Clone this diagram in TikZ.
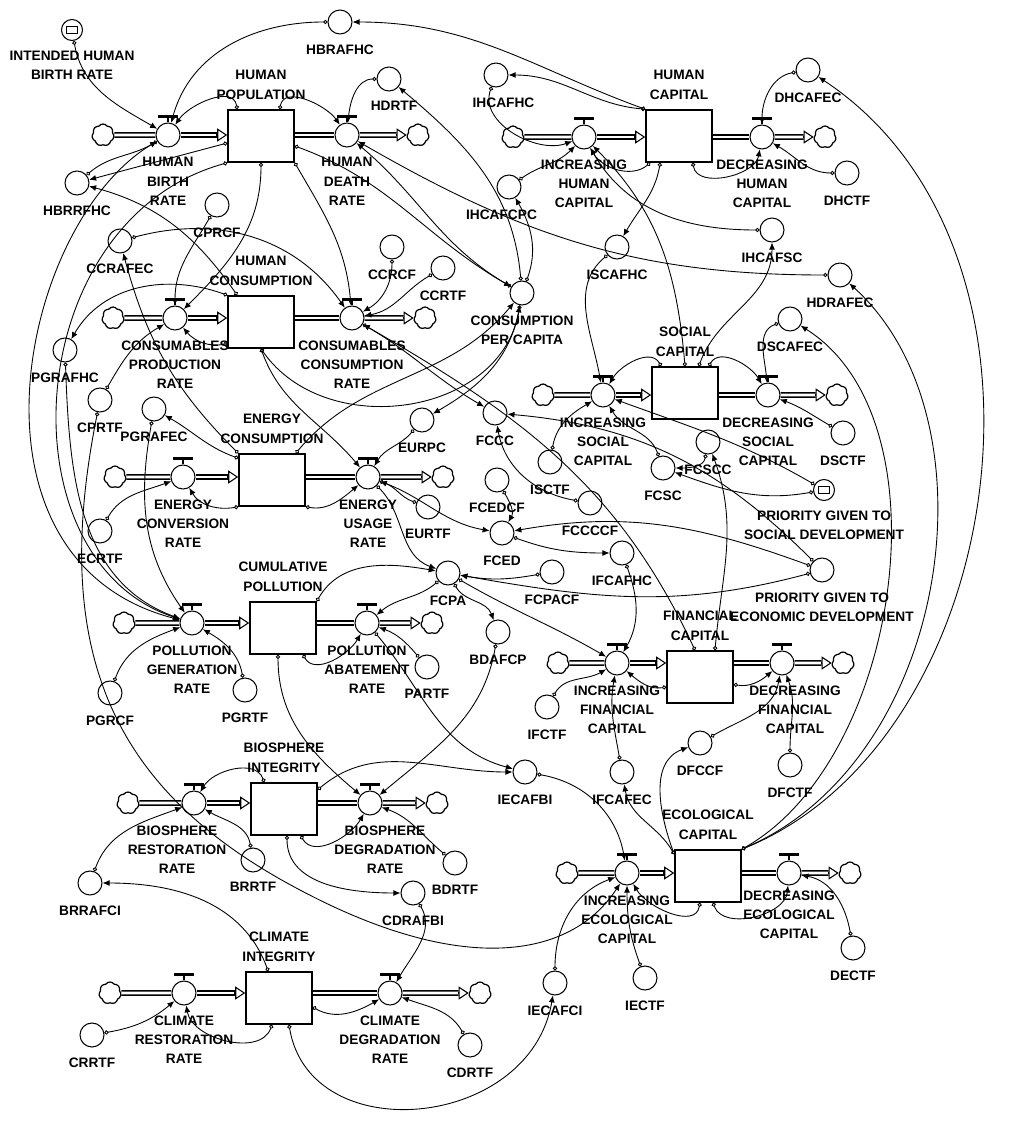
\documentclass[tikz,border=0pt]{standalone}
\usepackage{fontspec}
\setmainfont{Liberation Sans}
\usetikzlibrary{arrows.meta,shapes.symbols,calc}
\newcommand\sdfont{\fontsize{7.8}{11}\selectfont\bfseries}

\begin{document}
\begin{tikzpicture}[x=0.2mm, y=-0.2mm,
  stock/.style={rectangle, draw, line width=0.9pt, minimum width=13.2mm, minimum height=10.4mm, inner sep=0pt},
  valve/.style={circle, draw, line width=0.6pt, minimum size=4.8mm, inner sep=0pt},
  aux/.style={circle, draw, line width=0.6pt, minimum size=4.8mm, inner sep=0pt},
  inaux/.style={aux, minimum size=4.2mm, path picture={\draw[line width=0.6pt] ([shift={(-1.1mm,-0.7mm)}]path picture bounding box.center) rectangle ([shift={(1.1mm,0.7mm)}]path picture bounding box.center);}},
  cloudy/.style={cloud, cloud puffs=7, cloud puff arc=110, aspect=1, draw, line width=0.7pt, minimum width=4.4mm, minimum height=4.4mm, inner sep=0pt},
  pipe/.style={double, double distance=1.5pt, line width=0.85pt},
  flowtip/.style={-{Triangle[open, length=2mm, width=2.6mm]}, line width=0.6pt},
  link/.style={{Circle[open, length=2.4pt]}-{Latex[length=4pt, width=3.4pt]}, line width=0.5pt},
  every label/.style={font=\sdfont, align=center, inner sep=1pt},
  label distance=4.5pt
]
\useasboundingbox (0,0) rectangle (1024,1126);

\node[stock, label={above:HUMAN\\POPULATION}] (hpop) at (261,136) {};
\node[stock, label={above:HUMAN\\CONSUMPTION}] (hcons) at (261,322) {};
\node[stock, label={above:ENERGY\\CONSUMPTION}] (econ) at (272,480) {};
\node[stock, label={above:CUMULATIVE\\POLLUTION}] (cpol) at (283,628) {};
\node[stock, label={above:BIOSPHERE\\INTEGRITY}] (bint) at (284,809) {};
\node[stock, label={above:CLIMATE\\INTEGRITY}] (cint) at (279,998) {};
\node[stock, label={above:HUMAN\\CAPITAL}] (hcap) at (679,136) {};
\node[stock, label={above:SOCIAL\\CAPITAL}] (scap) at (685,393) {};
\node[stock, label={above:FINANCIAL\\CAPITAL}] (fcap) at (700,677) {};
\node[stock, label={above:ECOLOGICAL\\CAPITAL}] (ecap) at (708,876) {};

\node[cloudy] (hbrsrc) at (103,135) {};
\node[valve, label={below:HUMAN\\BIRTH\\RATE}] (hbr) at (168,135) {};
\node[valve, label={below:HUMAN\\DEATH\\RATE}] (hdr) at (347,135) {};
\node[cloudy] (hdrsnk) at (418,135) {};
\node[cloudy] (cprsrc) at (113,318) {};
\node[valve, label={below:CONSUMABLES\\PRODUCTION\\RATE}] (cpr) at (175,318) {};
\node[valve, label={below:CONSUMABLES\\CONSUMPTION\\RATE}] (ccr) at (352,318) {};
\node[cloudy] (ccrsnk) at (425,318) {};
\node[cloudy] (ecrsrc) at (115,477) {};
\node[valve, label={below:ENERGY\\CONVERSION\\RATE}] (ecr) at (183,477) {};
\node[valve, label={below:ENERGY\\USAGE\\RATE}] (eur) at (368,477) {};
\node[cloudy] (eursnk) at (443,477) {};
\node[cloudy] (pgrsrc) at (124,623) {};
\node[valve, label={below:POLLUTION\\GENERATION\\RATE}] (pgr) at (192,623) {};
\node[valve, label={below:POLLUTION\\ABATEMENT\\RATE}] (par) at (367,623) {};
\node[cloudy] (parsnk) at (432,623) {};
\node[cloudy] (brrsrc) at (128,803) {};
\node[valve, label={[xshift=-3.4mm]below:BIOSPHERE\\RESTORATION\\RATE}] (brr) at (194,803) {};
\node[valve, label={[xshift=3mm]below:BIOSPHERE\\DEGRADATION\\RATE}] (bdr) at (370,803) {};
\node[cloudy] (bdrsnk) at (437,803) {};
\node[cloudy] (crrsrc) at (110,993) {};
\node[valve, label={below:CLIMATE\\RESTORATION\\RATE}] (crr) at (184,993) {};
\node[valve, label={below:CLIMATE\\DEGRADATION\\RATE}] (cdr) at (390,993) {};
\node[cloudy] (cdrsnk) at (480,993) {};
\node[cloudy] (ihcsrc) at (513,137) {};
\node[valve, label={below:INCREASING\\HUMAN\\CAPITAL}] (ihc) at (584,137) {};
\node[valve, label={below:DECREASING\\HUMAN\\CAPITAL}] (dhc) at (762,137) {};
\node[cloudy] (dhcsnk) at (825,137) {};
\node[cloudy] (iscsrc) at (543,395) {};
\node[valve, label={below:INCREASING\\SOCIAL\\CAPITAL}] (isc) at (603,395) {};
\node[valve, label={below:DECREASING\\SOCIAL\\CAPITAL}] (dsc) at (768,395) {};
\node[cloudy] (dscsnk) at (837,395) {};
\node[cloudy] (ifcsrc) at (558,663) {};
\node[valve, label={below:INCREASING\\FINANCIAL\\CAPITAL}] (ifc) at (617,663) {};
\node[valve, label={[xshift=2.6mm]below:DECREASING\\FINANCIAL\\CAPITAL}] (dfc) at (782,663) {};
\node[cloudy] (dfcsnk) at (843,663) {};
\node[cloudy] (iecsrc) at (567,873) {};
\node[valve, label={below:INCREASING\\ECOLOGICAL\\CAPITAL}] (iec) at (627,873) {};
\node[valve, label={[yshift=1mm]below:DECREASING\\ECOLOGICAL\\CAPITAL}] (dec) at (789,873) {};
\node[cloudy] (decsnk) at (850,873) {};

\node[inaux, label={below:INTENDED HUMAN\\BIRTH RATE}] (ihbr) at (72,30) {};
\node[aux, label=below:HBRAFHC] (hbrafhc) at (340,22) {};
\node[aux, label={[xshift=1mm]below:HDRTF}] (hdrtf) at (389,79) {};
\node[aux, label=below:HBRRFHC] (hbrrfhc) at (77,183) {};
\node[aux, label=below:CPRCF] (cprcf) at (217,205) {};
\node[aux, label=below:CCRAFEC] (ccrafec) at (120,241) {};
\node[aux, label=below:CCRCF] (ccrcf) at (392,247) {};
\node[aux, label=below:CCRTF] (ccrtf) at (443,268) {};
\node[aux, label=below:PGRAFHC] (pgrafhc) at (65,350) {};
\node[aux, label=below:CPRTF] (cprtf) at (100,400) {};
\node[aux, label=below:PGRAFEC] (pgrafec) at (154,409) {};
\node[aux, label=below:ECRTF] (ecrtf) at (100,531) {};
\node[aux, label=below:PGRCF] (pgrcf) at (110,693) {};
\node[aux, label=below:PGRTF] (pgrtf) at (245,690) {};
\node[aux, label={[xshift=1.5mm]below:IHCAFHC}] (ihcafhc) at (496,75) {};
\node[aux, label={[xshift=-1.5mm]below:IHCAFCPC}] (ihcafcpc) at (509,187) {};
\node[aux, label={below:CONSUMPTION\\PER CAPITA}] (cpc) at (522,293) {};
\node[aux, label=below:ISCAFHC] (iscafhc) at (617,247) {};
\node[aux, label=below:IHCAFSC] (ihcafsc) at (772,230) {};
\node[aux, label=below:HDRAFEC] (hdrafec) at (840,275) {};
\node[aux, label=below:DHCAFEC] (dhcafec) at (808,70) {};
\node[aux, label=below:DHCTF] (dhctf) at (847,173) {};
\node[aux, label=below:DSCAFEC] (dscafec) at (790,319) {};
\node[aux, label=below:DSCTF] (dsctf) at (843,433) {};
\node[aux, label=below:FCCC] (fccc) at (495,413) {};
\node[aux, label=below:ISCTF] (isctf) at (550,462) {};
\node[aux, label=below:FCSCC] (fcscc) at (708,442) {};
\node[aux, label=below:FCSC] (fcsc) at (663,468) {};
\node[inaux, label={below:PRIORITY GIVEN TO\\SOCIAL DEVELOPMENT}] (pgsd) at (824,490) {};
\node[aux, label={below:PRIORITY GIVEN TO\\ECONOMIC DEVELOPMENT}] (pged) at (822,570) {};
\node[aux, label=below:FCEDCF] (fcedcf) at (497,480) {};
\node[aux, label=below:FCED] (fced) at (502,533) {};
\node[aux, label=below:FCCCCF] (fcccccf) at (590,503) {};
\node[aux, label=below:IFCAFHC] (ifcafhc) at (622,553) {};
\node[aux, label=below:FCPA] (fcpa) at (448,573) {};
\node[aux, label=below:FCPACF] (fcpacf) at (552,572) {};
\node[aux, label=below:EURPC] (eurpc) at (422,420) {};
\node[aux, label=below:EURTF] (eurtf) at (428,507) {};
\node[aux, label=below:BDAFCP] (bdafcp) at (498,632) {};
\node[aux, label=below:PARTF] (partf) at (427,667) {};
\node[aux, label=below:IFCTF] (ifctf) at (547,707) {};
\node[aux, label=below:DFCCF] (dfccf) at (700,743) {};
\node[aux, label=below:DFCTF] (dfctf) at (790,765) {};
\node[aux, label=below:IFCAFEC] (ifcafec) at (622,772) {};
\node[aux, label=below:IECAFBI] (iecafbi) at (525,772) {};
\node[aux, label=below:IECAFCI] (iecafci) at (555,983) {};
\node[aux, label=below:IECTF] (iectf) at (645,978) {};
\node[aux, label=below:DECTF] (dectf) at (853,948) {};
\node[aux, label=below:BRRTF] (brrtf) at (253,860) {};
\node[aux, label=below:BDRTF] (bdrtf) at (455,863) {};
\node[aux, label=below:BRRAFCI] (brrafci) at (90,883) {};
\node[aux, label=below:CDRAFBI] (cdrafbi) at (413,893) {};
\node[aux, label=below:CRRTF] (crrtf) at (92,1035) {};
\node[aux, label=below:CDRTF] (cdrtf) at (470,1045) {};

\foreach \src/\vlv/\stk in {hbrsrc/hbr/hpop, cprsrc/cpr/hcons, ecrsrc/ecr/econ, pgrsrc/pgr/cpol, brrsrc/brr/bint, crrsrc/crr/cint, ihcsrc/ihc/hcap, iscsrc/isc/scap, ifcsrc/ifc/fcap, iecsrc/iec/ecap}{
  \draw[pipe] (\src) -- (\vlv);
  \draw[pipe, shorten >=2mm] (\vlv) -- (\vlv -| \stk.west);
  \draw[flowtip] ($(\vlv -| \stk.west)+(-11,0)$) -- (\vlv -| \stk.west);
}
\foreach \stk/\vlv/\snk in {hpop/hdr/hdrsnk, hcons/ccr/ccrsnk, econ/eur/eursnk, cpol/par/parsnk, bint/bdr/bdrsnk, cint/cdr/cdrsnk, hcap/dhc/dhcsnk, scap/dsc/dscsnk, fcap/dfc/dfcsnk, ecap/dec/decsnk}{
  \draw[pipe] (\vlv -| \stk.east) -- (\vlv);
  \draw[pipe, shorten >=2mm] (\vlv) -- (\snk);
  \draw[flowtip] ($(\snk.west)+(-11,0)$) -- (\snk.west);
}
\foreach \vlv in {hbr,hdr,cpr,ccr,ecr,eur,pgr,par,brr,bdr,crr,cdr,ihc,dhc,isc,dsc,ifc,dfc,iec,dec}{
  \draw[line width=0.6pt] (\vlv.north) -- ++(0,-6);
  \draw[line width=1.5pt] ($(\vlv.north)+(-10,-6)$) -- ($(\vlv.north)+(10,-6)$);
}

\draw[link] (ihbr) to[out=-80, in=150] (hbr);
\draw[link] (hbrafhc) to[out=180, in=75] (hbr);
\draw[link] (hcap.north west) to[out=160, in=0] (hbrafhc);
\draw[link] ([xshift=2mm]hpop.north west) to[out=100, in=55] (hbr);
\draw[link] ([xshift=-3mm]hpop.north east) to[out=80, in=125] (hdr);
\draw[link] (hdrtf) to[out=180, in=85] (hdr);
\draw[link] ([yshift=-1.4mm]hpop.west) to[out=195, in=15] (hbrrfhc);
\draw[link] (hbrrfhc) to[out=40, in=210] (hbr);
\draw[link] ([xshift=2mm]hcons.north west) to[out=125, in=-15] (hbrrfhc);
\draw[link] (hpop.south) to[out=-90, in=45] (cpr);
\draw[link] (hpop.south east) to[out=-60, in=95] (ccr);
\draw[link] ([yshift=-2mm]hpop.east) to[out=-20, in=150] (cpc);
\draw[link] (cpc) to[out=150, in=-40] (hdr);
\draw[link] (cpc) to[out=95, in=-40] (hdrtf);
\draw[link] (cpc) to[out=70, in=-60] (ihcafcpc);
\draw[link] (hdrafec) to[out=180, in=-30] (hdr);

\draw[link] (hcap.north west) to[out=175, in=0] (ihcafhc);
\draw[link] (ihcafhc) to[out=-110, in=200] (ihc);
\draw[link] (ihcafcpc) to[out=35, in=225] (ihc);
\draw[link] (ihcafsc) to[out=180, in=-60] (ihc);
\draw[link] ([xshift=3mm]hcap.south west) to[out=-100, in=60] (iscafhc);
\draw[link] ([xshift=-4mm]hcap.south east) to[out=-80, in=-100] (dhc);
\draw[link] (dhcafec) to[out=190, in=90] (dhc);
\draw[link] (dhctf) to[out=180, in=-30] (dhc);
\draw[link] ([xshift=1mm]hcap.south west) to[out=-140, in=-60] (ihc);
\draw[link] (scap.north) to[out=95, in=-45] (ihc);

\draw[link] ([xshift=2mm]scap.north west) to[out=120, in=60] (isc);
\draw[link] ([xshift=-2mm]scap.north east) to[out=60, in=120] (dsc);
\draw[link] ([xshift=-4mm]scap.north east) to[out=70, in=-90] (ihcafsc);
\draw[link] (iscafhc) to[out=220, in=100] (isc);
\draw[link] (isctf) to[out=80, in=210] (isc);
\draw[link] (dscafec) to[out=200, in=95] (dsc);
\draw[link] (dsctf) to[out=150, in=-20] (dsc);
\draw[link] (pgsd) to[out=150, in=-20] (isc);
\draw[link] (pgsd) to[out=190, in=-20] (fcsc);
\draw[link] (fcscc) to[out=-100, in=0] (fcsc);
\draw[link] (fcsc) to[out=110, in=-60] (isc);

\draw[link] (pged) to[out=135, in=-5] (fccc);
\draw[link] (pged) to[out=160, in=10] (fced);
\draw[link] (pged) to[out=195, in=-10] (fcpa);
\draw[link] (fcccccf) to[out=170, in=-80] (fccc);
\draw[link] (fcedcf) to[out=-60, in=60] (fced);
\draw[link] (fcpacf) to[out=190, in=-10] (fcpa);
\draw[link] (ccr) to[out=-30, in=150] (fccc);
\draw[link] (eur) to[out=-20, in=170] (fced);
\draw[link] (eur) to[out=-45, in=160] (fcpa);
\draw[link] (fced) to[out=-20, in=180] (ifcafhc);
\draw[link] (ifcafhc) to[out=-70, in=60] (ifc);
\draw[link] (fcpa) to[out=-30, in=150] (ifc);
\draw[link] ([xshift=-1mm]fcap.north) to[out=115, in=-30] (ccr);
\draw[link] ([xshift=3mm]fcap.north) to[out=85, in=-70] (fcscc);
\draw[link] ([yshift=-2mm]fcap.west) to[out=190, in=-40] (ifc);
\draw[link] ([yshift=-1.5mm]fcap.east) to[out=-10, in=-140] (dfc);
\draw[link] (dfccf) to[out=30, in=-100] (dfc);
\draw[link] (dfctf) to[out=90, in=-70] (dfc);
\draw[link] (ifctf) to[out=60, in=210] (ifc);
\draw[link] (ifcafec) to[out=100, in=-100] (ifc);

\draw[link] ([yshift=-1mm]ecap.north west) to[out=120, in=-80] (ifcafec);
\draw[link] ([yshift=-1mm]ecap.north west) to[out=110, in=200] (dfccf);
\draw[link] (ecap.north east) .. controls (1010,740) and (1080,250) .. (dhcafec);
\draw[link] (ecap.north east) .. controls (950,760) and (1000,420) .. (hdrafec);
\draw[link] (ecap.north east) .. controls (900,760) and (950,420) .. (dscafec);
\draw[link] (iecafbi) to[out=-10, in=100] (iec);
\draw[link] (iecafci) to[out=90, in=200] (iec);
\draw[link] (iectf) to[out=110, in=-90] (iec);
\draw[link] ([xshift=-1.6mm]ecap.south) to[out=-100, in=-60] (iec);
\draw[link] ([xshift=1mm]ecap.south) to[out=-70, in=-95] (dec);
\draw[link] (dectf) to[out=100, in=-10] (dec);

\draw[link] (cprcf) to[out=-120, in=90] (cpr);
\draw[link] (ccrafec) to[out=15, in=125] (ccr);
\draw[link] (ccrcf) to[out=-90, in=30] (ccr);
\draw[link] (ccrtf) to[out=-150, in=10] (ccr);
\draw[link] (cprtf) to[out=60, in=210] (cpr);
\draw[link] ([yshift=1mm]hcons.south west) to[out=190, in=-50] (cpr);
\draw[link] (hcons.north west) to[out=160, in=60] (pgrafhc);
\draw[link] (hcons.south) to[out=-70, in=130] (eur);
\draw[link] (hcons.south) to[out=-55, in=-100, looseness=1.1] (cpc);

\draw[link] (pgrafec) to[out=-100, in=125] (pgr);
\draw[link] ([yshift=-1mm]econ.north west) to[out=160, in=-30] (pgrafec);
\draw[link] (econ.north west) to[out=135, in=-75] (ccrafec);
\draw[link] (ecrtf) to[out=60, in=200] (ecr);
\draw[link] (econ.south west) to[out=190, in=-60] (ecr);
\draw[link] (econ.south east) to[out=-10, in=-140] (eur);
\draw[link] ([xshift=-2mm]econ.north east) to[out=50, in=-130] (cpc);
\draw[link] (eurpc) to[out=-130, in=60] (eur);
\draw[link] (cpc) to[out=-100, in=30] (eurpc);
\draw[link] (eurtf) to[out=160, in=-20] (eur);

\draw[link] (hbr) .. controls (20,220) and (-50,560) .. (pgr);
\draw[link] (hpop.south west) .. controls (20,220) and (0,560) .. (pgr);
\draw[link] (pgrafhc) to[out=-88, in=160] (pgr);
\draw[link] (pgrcf) to[out=70, in=200] (pgr);
\draw[link] (pgrtf) to[out=100, in=-30] (pgr);
\draw[link] ([xshift=4mm]cpol.south) to[out=-60, in=-120] (par);
\draw[link] (cpol.north east) to[out=60, in=170] (fcpa);
\draw[link] (fcpa) to[out=220, in=40] (par);
\draw[link] (partf) to[out=130, in=-20] (par);
\draw[link] (fcpa) to[out=-60, in=110] (bdafcp);
\draw[link] (bdafcp) to[out=-100, in=40] (bdr);
\draw[link] (par) to[out=-50, in=165] (iecafbi);
\draw[link] ([xshift=-1mm]cpol.south) to[out=-90, in=140] (bdr);
\draw[link] (cprtf) .. controls (50,650) and (110,790) .. (300,890) .. controls (460,975) and (570,960) .. (iec);

\draw[link] ([xshift=2.8mm]bint.north west) to[out=110, in=60] (brr);
\draw[link] (brrtf) to[out=100, in=-30] (brr);
\draw[link] (brrafci) to[out=70, in=200] (brr);
\draw[link] ([xshift=4.6mm]cint.north west) to[out=110, in=0] (brrafci);
\draw[link] ([yshift=-1.5mm]bint.north east) to[out=40, in=180] (iecafbi);
\draw[link] ([xshift=-3.4mm]bint.south east) to[out=-60, in=-120] (bdr);
\draw[link] ([xshift=0.6mm]bint.south) to[out=-90, in=180] (cdrafbi);
\draw[link] (cdrafbi) to[out=-60, in=60] (cdr);
\draw[link] (bdrtf) to[out=140, in=-20] (bdr);

\draw[link] (crrtf) to[out=10, in=220] (crr);
\draw[link] ([xshift=-1.4mm]cint.south) to[out=-110, in=-80] (crr);
\draw[link] ([xshift=2mm]cint.south) .. controls (310,1150) and (530,1130) .. (iecafci);
\draw[link] ([yshift=-1.8mm]cint.east) to[out=-30, in=-150] (cdr);
\draw[link] (cdrtf) to[out=120, in=-20] (cdr);
\end{tikzpicture}
\end{document}
